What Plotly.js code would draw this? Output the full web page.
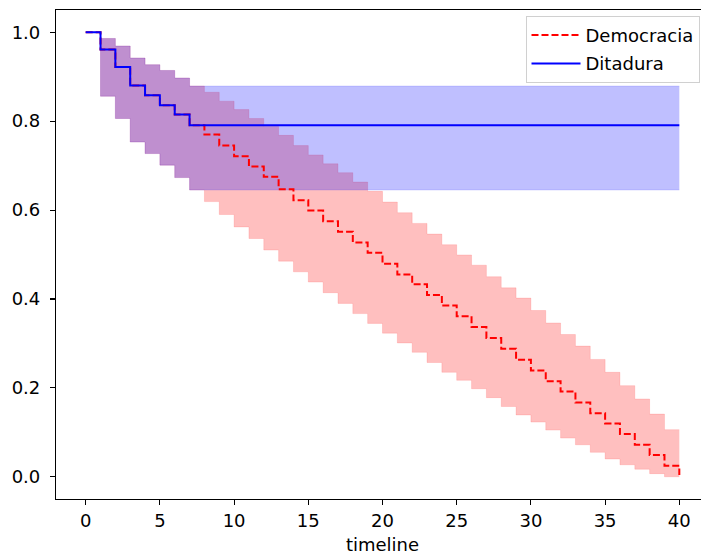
<!DOCTYPE html>
<html>
<head>
<meta charset="utf-8">
<script src="https://cdn.plot.ly/plotly-3.0.1.min.js"></script>
<style>
html, body { margin: 0; padding: 0; overflow: hidden; background: #fff; }
#chart { width: 714px; height: 556px; }
</style>
</head>
<body>
<div id="chart"></div>
<script>
// Democracia (Kaplan-Meier estimate with confidence interval)
const demoTimeline = [0,1,2,3,4,5,6,7,8,9,10,11,12,13,14,15,16,17,18,19,20,21,22,23,24,25,26,27,28,29,30,31,32,33,34,35,36,37,38,39,40];
const demoSurvival = [1.0,0.961,0.922,0.880,0.858,0.836,0.815,0.791,0.770,0.745,0.721,0.698,0.675,0.647,0.622,0.599,0.575,0.551,0.527,0.504,0.479,0.455,0.433,0.409,0.385,0.361,0.337,0.312,0.288,0.263,0.239,0.215,0.192,0.167,0.143,0.120,0.096,0.072,0.049,0.025,0.004];
const demoUpper = [1.0,0.986,0.969,0.942,0.927,0.914,0.897,0.879,0.865,0.845,0.826,0.806,0.788,0.768,0.745,0.724,0.704,0.684,0.663,0.642,0.618,0.594,0.570,0.546,0.522,0.499,0.476,0.450,0.425,0.402,0.374,0.346,0.320,0.294,0.264,0.235,0.205,0.175,0.141,0.106,0.106];
const demoLower = [1.0,0.856,0.806,0.753,0.727,0.701,0.673,0.645,0.619,0.590,0.562,0.536,0.510,0.485,0.461,0.438,0.414,0.390,0.367,0.345,0.323,0.301,0.280,0.257,0.235,0.217,0.198,0.178,0.158,0.139,0.123,0.105,0.087,0.072,0.055,0.040,0.027,0.017,0.007,0.0,0.0];

// Ditadura
const ditaTimeline = [0,1,2,3,4,5,6,7,40];
const ditaSurvival = [1.0,0.961,0.922,0.880,0.858,0.836,0.815,0.791,0.791];
const ditaUpper = [1.0,0.986,0.969,0.942,0.927,0.914,0.897,0.879,0.879];
const ditaLower = [1.0,0.856,0.806,0.753,0.727,0.701,0.673,0.645,0.645];

const xTicks = [0,5,10,15,20,25,30,35,40];
const yTicks = [0.0,0.2,0.4,0.6,0.8,1.0];

const FONT = 'DejaVu Sans, sans-serif';
const FS = 18;

function band(x, lo, hi, fillColor, edgeColor) {
  return [
    {x: x, y: lo, type: 'scatter', mode: 'lines', line: {shape: 'hv', width: 1, color: edgeColor},
     showlegend: false, hoverinfo: 'skip'},
    {x: x, y: hi, type: 'scatter', mode: 'lines', line: {shape: 'hv', width: 1, color: edgeColor},
     fill: 'tonexty', fillcolor: fillColor, showlegend: false, hoverinfo: 'skip'}
  ];
}

const traces = [
  ...band(demoTimeline, demoLower, demoUpper, 'rgba(255,0,0,0.25)', 'rgba(255,0,0,0.12)'),
  ...band(ditaTimeline, ditaLower, ditaUpper, 'rgba(0,0,255,0.25)', 'rgba(0,0,255,0.12)'),
  {x: demoTimeline, y: demoSurvival, type: 'scatter', mode: 'lines', name: 'Democracia',
   legendgroup: 'a', line: {shape: 'hv', color: 'red', width: 2, dash: '7px,3px'}},
  {x: ditaTimeline, y: ditaSurvival, type: 'scatter', mode: 'lines', name: 'Ditadura',
   legendgroup: 'b', line: {shape: 'hv', color: 'blue', width: 2}}
];

const layout = {
  width: 714, height: 556,
  margin: {l: 56, r: 5, t: 10, b: 57},
  paper_bgcolor: '#fff', plot_bgcolor: '#fff',
  font: {family: FONT, size: FS, color: '#000'},
  showlegend: true,
  legend: {
    x: 0.719, y: 0.988, xanchor: 'left', yanchor: 'top',
    bgcolor: 'rgba(255,255,255,0.8)', bordercolor: '#d0d0d0', borderwidth: 1,
    font: {family: FONT, size: FS, color: '#000'},
    traceorder: 'grouped', tracegroupgap: 2, itemwidth: 49
  },
  xaxis: {
    range: [-2, 42], tickvals: xTicks, ticktext: xTicks.map(String),
    showgrid: false, zeroline: false, showline: true, mirror: true,
    linecolor: '#000', linewidth: 1.1, ticks: 'outside', ticklen: 5, tickwidth: 1.1, tickcolor: '#000',
    title: {text: 'timeline', font: {family: FONT, size: FS}, standoff: 8}
  },
  yaxis: {
    range: [-0.05, 1.05], tickvals: yTicks, ticktext: yTicks.map(v => v.toFixed(1)),
    showgrid: false, zeroline: false, showline: true, mirror: true,
    linecolor: '#000', linewidth: 1.1, ticks: 'outside', ticklen: 5, tickwidth: 1.1, tickcolor: '#000',
    ticklabelstandoff: 6
  }
};

Plotly.newPlot('chart', traces, layout, {displayModeBar: false, staticPlot: true});
</script>
</body>
</html>
